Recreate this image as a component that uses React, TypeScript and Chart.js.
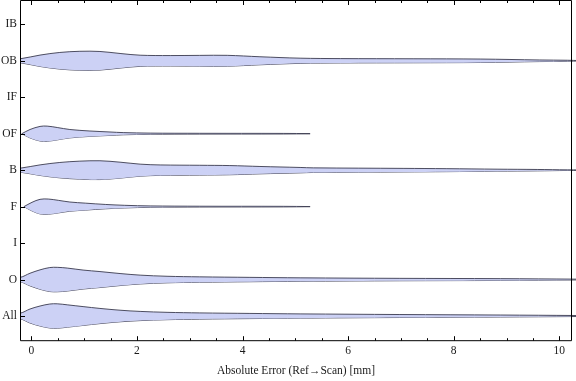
import React, { useEffect, useRef } from 'react';
import { Chart, registerables } from 'chart.js';

Chart.register(...registerables);

// categories from bottom (0) to top (8)
const categories = ['All', 'O', 'I', 'F', 'B', 'OF', 'IF', 'OB', 'IB'];
const xTicks = [0, 2, 4, 6, 8, 10];
const xMinorTicks = [0.5, 1, 1.5, 2.5, 3, 3.5, 4.5, 5, 5.5, 6.5, 7, 7.5, 8.5, 9, 9.5, 10.5];
const axisTitle = 'Absolute Error (Ref\u2192Scan) [mm]';

// violin profiles: x positions (mm) and half-widths (density, in category units)
const obX = [-0.59, -0.21, 0.165, 0.54, 0.92, 1.3, 1.68, 2.06, 2.63, 3.19, 3.71, 4.33, 5.09, 5.85, 7.23, 8.5, 9.63, 10.15, 10.39];
const obW = [0.008, 0.055, 0.156, 0.228, 0.26, 0.255, 0.2, 0.153, 0.143, 0.148, 0.149, 0.11, 0.071, 0.06, 0.055, 0.047, 0.022, 0.014, 0.005];

const ofX = [-0.18, -0.025, 0.165, 0.3, 0.49, 0.73, 1.11, 1.49, 1.74, 2.25, 3.19, 4.77, 5.28];
const ofW = [0, 0.115, 0.2, 0.208, 0.17, 0.115, 0.074, 0.047, 0.03, 0.016, 0.011, 0.008, 0.002];

const bX = [-0.59, -0.21, 0.165, 0.54, 0.92, 1.3, 1.68, 2.06, 2.44, 3.19, 3.76, 4.33, 5.09, 5.34, 7.04, 7.87, 8.82, 9.58, 10.15, 10.39];
const bW = [0.008, 0.055, 0.145, 0.211, 0.247, 0.258, 0.219, 0.165, 0.143, 0.134, 0.126, 0.101, 0.074, 0.063, 0.049, 0.041, 0.027, 0.019, 0.008, 0.005];

const fX = [-0.14, 0.013, 0.165, 0.32, 0.51, 0.73, 1.02, 1.4, 1.77, 2.25, 3.19, 4.77, 5.28];
const fW = [0, 0.118, 0.2, 0.208, 0.173, 0.126, 0.096, 0.06, 0.036, 0.019, 0.011, 0.008, 0.002];

const oX = [-0.59, -0.21, -0.025, 0.165, 0.35, 0.49, 0.68, 0.98, 1.3, 1.68, 2.06, 2.57, 3.19, 4.14, 5.09, 6.98, 8.88, 10.32];
const oW = [0.008, 0.06, 0.173, 0.266, 0.329, 0.335, 0.315, 0.26, 0.219, 0.165, 0.121, 0.09, 0.074, 0.06, 0.047, 0.033, 0.025, 0.011];

const allX = [-0.59, -0.21, -0.025, 0.165, 0.35, 0.49, 0.68, 0.98, 1.3, 1.68, 2.06, 2.57, 3.19, 4.14, 5.09, 6.98, 8.88, 10.32];
const allW = [0.008, 0.077, 0.192, 0.274, 0.329, 0.335, 0.307, 0.258, 0.208, 0.159, 0.126, 0.101, 0.085, 0.071, 0.058, 0.041, 0.027, 0.014];

const violins = [
  { cat: 'OB', xs: obX, ws: obW },
  { cat: 'OF', xs: ofX, ws: ofW },
  { cat: 'B', xs: bX, ws: bW },
  { cat: 'F', xs: fX, ws: fW },
  { cat: 'O', xs: oX, ws: oW },
  { cat: 'All', xs: allX, ws: allW },
];

const FILL = 'rgb(204, 209, 245)';
const EDGE = 'rgba(60, 60, 80, 0.9)';
const FONT = { family: '"Liberation Serif", "Times New Roman", serif', size: 11.5 };
const TEXT = '#1a1a1a';

const framePlugin = {
  id: 'frameTicks',
  afterDatasetsDraw(chart: any) {
    const { ctx, chartArea: a, scales } = chart;
    const x = scales.x;
    const y = scales.y;
    ctx.save();
    ctx.strokeStyle = '#000';
    ctx.lineWidth = 1;
    ctx.beginPath();
    ctx.rect(a.left, a.top, a.right - a.left, a.bottom - a.top);
    ctx.stroke();
    ctx.beginPath();
    const tick = (v: number, len: number) => {
      const px = Math.round(x.getPixelForValue(v)) + 0.5;
      if (px < a.left || px > a.right) return;
      ctx.moveTo(px, a.bottom);
      ctx.lineTo(px, a.bottom - len);
      ctx.moveTo(px, a.top);
      ctx.lineTo(px, a.top + len);
    };
    xTicks.forEach((v) => tick(v, 4.5));
    xMinorTicks.forEach((v) => tick(v, 2.5));
    categories.forEach((_, i) => {
      const py = Math.round(y.getPixelForValue(i)) + 0.5;
      ctx.moveTo(a.left, py);
      ctx.lineTo(a.left + 4.5, py);
    });
    ctx.stroke();
    ctx.restore();
  },
};

export default function App() {
  const ref = useRef<HTMLCanvasElement | null>(null);

  useEffect(() => {
    if (!ref.current) return;
    const datasets: any[] = [];
    violins.forEach((v) => {
      const c = categories.indexOf(v.cat);
      const common = {
        borderColor: EDGE,
        borderWidth: 1,
        pointRadius: 0,
        tension: 0.35,
        clip: false,
        showLine: true,
      };
      datasets.push({
        ...common,
        label: v.cat + ' upper',
        data: v.xs.map((x, i) => ({ x, y: c + v.ws[i] })),
        fill: '+1',
        backgroundColor: FILL,
      });
      datasets.push({
        ...common,
        label: v.cat + ' lower',
        data: v.xs.map((x, i) => ({ x, y: c - v.ws[i] })),
        fill: false,
        backgroundColor: FILL,
      });
    });

    const chart = new Chart(ref.current, {
      type: 'line',
      data: { datasets },
      options: {
        animation: false,
        responsive: false,
        devicePixelRatio: 1,
        layout: { padding: { top: 0.5, right: 4.5, left: 0, bottom: 0 } },
        plugins: { legend: { display: false }, tooltip: { enabled: false } },
        scales: {
          x: {
            type: 'linear',
            min: -0.205,
            max: 10.23,
            afterBuildTicks: (s: any) => {
              s.ticks = xTicks.map((value) => ({ value }));
            },
            afterFit: (s: any) => {
              s.height = 40.3;
              s.paddingLeft = 0;
              s.paddingRight = 0;
            },
            grid: { display: false, drawTicks: false },
            border: { display: false },
            ticks: { font: FONT, color: TEXT, padding: 3.5, maxRotation: 0 },
            title: {
              display: true,
              text: axisTitle,
              font: FONT,
              color: TEXT,
              padding: { top: 0, bottom: 3.5 },
            },
          },
          y: {
            type: 'linear',
            min: -0.677,
            max: 8.653,
            afterBuildTicks: (s: any) => {
              s.ticks = categories.map((_, value) => ({ value }));
            },
            afterFit: (s: any) => {
              s.width = 20.5;
              s.paddingTop = 0;
              s.paddingBottom = 0;
            },
            grid: { display: false, drawTicks: false },
            border: { display: false },
            ticks: {
              font: FONT,
              color: TEXT,
              padding: 3.5,
              callback: (value: any) => categories[Math.round(Number(value))] ?? '',
            },
          },
        },
      },
      plugins: [framePlugin],
    });
    return () => chart.destroy();
  }, []);

  return (
    <div style={{ position: 'absolute', left: 0, top: 0, width: 576, height: 381, background: '#fff' }}>
      <canvas ref={ref} width={576} height={381} style={{ display: 'block' }} />
    </div>
  );
}
